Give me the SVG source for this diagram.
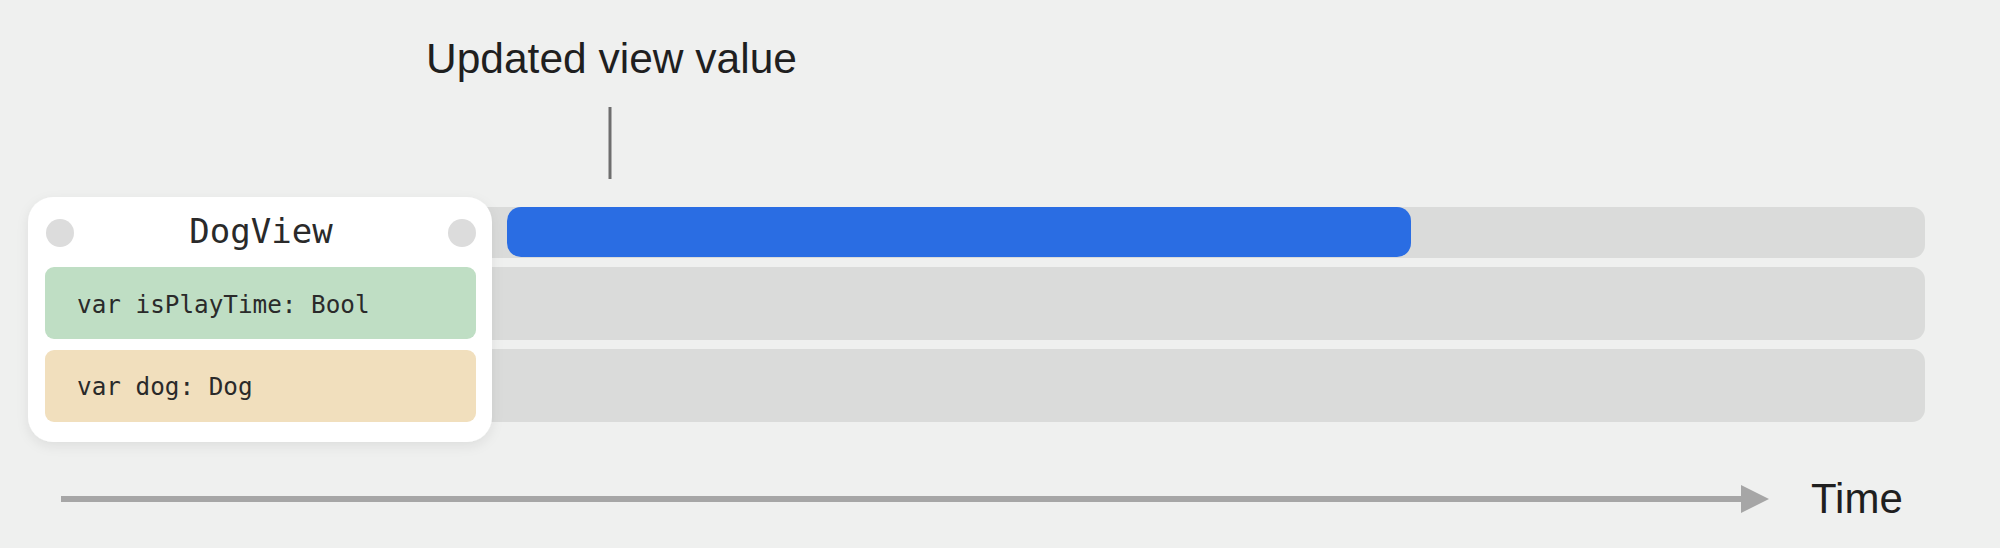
<svg xmlns="http://www.w3.org/2000/svg" width="2000" height="548" viewBox="0 0 2000 548">
  <defs>
    <style>
      .track { fill: #dadbda; }
      .label { font-family: "Liberation Sans", Arial, sans-serif; fill: #1f1f1f; }
      .mono { font-family: "DejaVu Sans Mono", "Liberation Mono", monospace; fill: #2a2a2a; }
      .dot { fill: #dcdcdc; }
    </style>
    <filter id="shadow" x="-10%" y="-10%" width="120%" height="130%">
      <feDropShadow dx="0" dy="4" stdDeviation="6" flood-color="#000" flood-opacity="0.08"/>
    </filter>
    <marker id="arrowhead" markerWidth="28" markerHeight="28" refX="0" refY="14" orient="auto" markerUnits="userSpaceOnUse">
      <polygon points="0,0 28,14 0,28" fill="#a6a6a6"/>
    </marker>
  </defs>
  <rect x="0" y="0" width="2000" height="548" fill="#eff0ef"/>

  <g id="tracks">
    <rect id="track-view" class="track" x="470" y="207" width="1455" height="51" rx="13"/>
    <rect id="track-isPlayTime" class="track" x="470" y="267" width="1455" height="73" rx="13"/>
    <rect id="track-dog" class="track" x="470" y="349" width="1455" height="73" rx="13"/>
  </g>

  <g id="updated-view-value">
    <rect x="507" y="207" width="904" height="50" rx="14" fill="#2a6de3"/>
  </g>

  <g id="connectors">
    <line x1="610" y1="107" x2="610" y2="179" stroke="#6e6e6e" stroke-width="3"/>
    <line x1="61" y1="499" x2="1741" y2="499" stroke="#a6a6a6" stroke-width="6" marker-end="url(#arrowhead)"/>
  </g>

  <g id="label-updated">
    <text class="label" x="426" y="73" font-size="42.5">Updated view value</text>
  </g>

  <g id="label-time">
    <text class="label" x="1811" y="513" font-size="42">Time</text>
  </g>

  <g id="dogview">
    <rect x="28" y="197" width="464" height="245" rx="25" fill="#ffffff" filter="url(#shadow)"/>
    <circle class="dot" cx="60" cy="233" r="14"/>
    <circle class="dot" cx="462" cy="233" r="14"/>
    <text class="mono" x="261" y="243" font-size="34" text-anchor="middle">DogView</text>
    <g id="prop-isPlayTime">
      <rect x="45" y="267" width="431" height="72" rx="9" fill="#bfdec4"/>
      <text class="mono" x="77" y="313" font-size="24.3">var isPlayTime: Bool</text>
    </g>
    <g id="prop-dog">
      <rect x="45" y="350" width="431" height="72" rx="9" fill="#f1dfbd"/>
      <text class="mono" x="77" y="395" font-size="24.3">var dog: Dog</text>
    </g>
  </g>
</svg>
